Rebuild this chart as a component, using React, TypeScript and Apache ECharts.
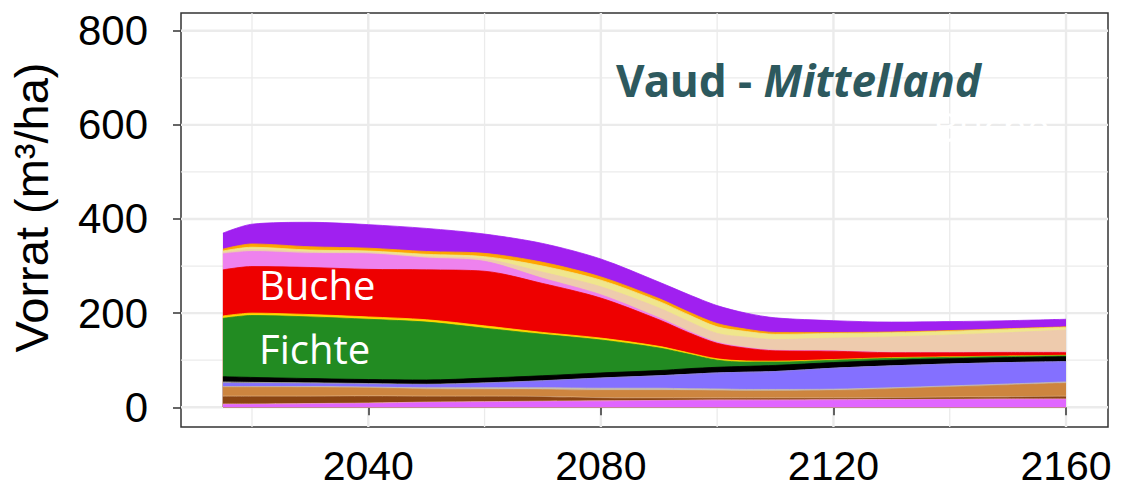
import React, { useEffect, useRef } from "react";
import * as echarts from "echarts";

// ---- data (m3/ha per layer, listed bottom -> top) ----
const years = [2015, 2020, 2030, 2040, 2050, 2060, 2070, 2080, 2090, 2095, 2100, 2105, 2110, 2120, 2130, 2140, 2150, 2160];

const pinkLayer = [6, 6, 7, 8, 10, 11, 12, 13, 14, 14.5, 15, 15, 15, 15.5, 16, 16.5, 17, 17];
const salmonLayer = [1, 1, 1, 1, 1, 1, 1, 0.8, 0.6, 0.6, 0.6, 0.6, 0.6, 0.6, 0.6, 0.6, 0.6, 0.6];
const brownLayer = [15.5, 15.5, 14.5, 14, 11.5, 10.5, 9, 5.7, 4.4, 3.9, 3.4, 3.4, 3.4, 2.9, 2.9, 3.4, 3.9, 4.9];
const wheatLayer = [1, 1, 1, 1, 1, 1, 1, 1, 1, 1, 1, 1, 1, 1, 1, 1, 1, 1];
const peruLayer = [19, 19, 18.5, 17, 15, 14.5, 14.5, 15.5, 16, 15.5, 15, 14.5, 14.5, 15.5, 18.5, 21.5, 24.5, 27.5];
const tanLayer = [1.5, 1.5, 2, 2, 3, 3.5, 4, 4.5, 4.5, 4, 4, 3.5, 3.5, 3, 2.5, 2.5, 2.5, 3];
const blueLayer = [7, 6.5, 6, 6, 6.5, 9.5, 14.5, 21.5, 26.5, 30.5, 34, 36.5, 38, 44.5, 46.5, 46.5, 45.5, 43];
const greyLayer = [3, 2.5, 2, 1.5, 1, 1, 0.5, 0.3, 0, 0, 0, 0, 0, 0, 0, 0, 0, 0];
const blackLayer = [11, 10.5, 9, 8.5, 9, 10, 10.5, 10.7, 11, 12, 12, 12.5, 13, 12, 12, 11, 10.5, 10.5];
const fichte = [124, 131.5, 131, 128, 123, 106, 88, 70, 48, 31, 15, 9, 7, 5, 4, 3, 2.5, 2];
const yellowLayer = [5, 5, 5, 5, 5, 5, 4, 4, 3.5, 3, 3, 2.5, 2, 1.5, 1.5, 1.2, 1, 1];
const buche = [98, 99, 100, 101, 106, 116, 104, 85, 56.5, 43, 33, 27, 22, 17.5, 10.5, 8.8, 7.5, 6];
const violetLayer = [34, 32, 30, 33, 25, 21, 11, 7, 4, 3, 2, 1.5, 1, 1, 0.5, 0.5, 0.5, 0.5];
const peachLayer = [3, 4, 3, 3, 3, 5, 13, 17, 21, 21, 19, 22, 23, 27, 33, 37, 41.5, 47];
const khakiLayer = [3, 5, 4, 3, 5, 5, 13, 14, 14, 14, 14, 12, 11, 10, 9, 8, 7.5, 6];
const orangeLayer = [4, 7, 7, 6, 6, 7, 8, 7, 6, 6, 7, 5, 4, 2, 1.5, 1.5, 1, 1];
const purpleLayer = [34, 42, 52, 50, 49, 41, 40, 38, 35, 37, 38, 34, 31, 25, 21, 19, 17, 16];

const layers = [
  { name: "Layer 1", color: "#E066FF", values: pinkLayer },
  { name: "Layer 2", color: "#F2B8A0", values: salmonLayer },
  { name: "Layer 3", color: "#8B4513", values: brownLayer },
  { name: "Layer 4", color: "#EDC9A4", values: wheatLayer },
  { name: "Layer 5", color: "#CD853F", values: peruLayer },
  { name: "Layer 6", color: "#C8BDB0", values: tanLayer },
  { name: "Layer 7", color: "#8470FF", values: blueLayer },
  { name: "Layer 8", color: "#A0A0A0", values: greyLayer },
  { name: "Layer 9", color: "#000000", values: blackLayer },
  { name: "Fichte", color: "#228B22", values: fichte },
  { name: "Layer 11", color: "#FFD700", values: yellowLayer },
  { name: "Buche", color: "#EE0000", values: buche },
  { name: "Layer 13", color: "#EE82EE", values: violetLayer },
  { name: "Layer 14", color: "#EECBAD", values: peachLayer },
  { name: "Layer 15", color: "#F0E68C", values: khakiLayer },
  { name: "Layer 16", color: "#FFA500", values: orangeLayer },
  { name: "Layer 17", color: "#A020F0", values: purpleLayer },
];

const xTickValues = [2040, 2080, 2120, 2160];
const xMinorValues = [2020, 2060, 2100, 2140];
const yTickValues = [0, 200, 400, 600, 800];
const yMinorValues = [100, 300, 500, 700];

const X_MIN = 2007.79;
const X_MAX = 2167.22;
const Y_MIN = -41.85;
const Y_MAX = 837.6;

export default function App() {
  const ref = useRef<HTMLDivElement>(null);

  useEffect(() => {
    if (!ref.current) return;
    const chart = echarts.init(ref.current, undefined, { renderer: "svg" });

    const gridSeries: any = {
      type: "custom",
      silent: true,
      z: 0,
      clip: false,
      data: [[years[0], 0]],
      renderItem: (_params: any, api: any) => {
        const children: any[] = [];
        const add = (a: number[], b: number[], w: number) =>
          children.push({
            type: "line",
            silent: true,
            shape: { x1: a[0], y1: a[1], x2: b[0], y2: b[1] },
            style: { stroke: "#EBEBEB", lineWidth: w },
          });
        yMinorValues.forEach((v) => add(api.coord([X_MIN, v]), api.coord([X_MAX, v]), 1.3));
        xMinorValues.forEach((v) => add(api.coord([v, Y_MIN]), api.coord([v, Y_MAX]), 1.3));
        yTickValues.forEach((v) => add(api.coord([X_MIN, v]), api.coord([X_MAX, v]), 2.4));
        xTickValues.forEach((v) => add(api.coord([v, Y_MIN]), api.coord([v, Y_MAX]), 2.4));
        return { type: "group", children };
      },
    };

    // cumulative stack tops, computed from the layer arrays
    const cumulative: number[][] = [];
    layers.forEach((l, k) => {
      cumulative.push(
        years.map((_, i) => (k === 0 ? 0 : cumulative[k - 1][i]) + l.values[i])
      );
    });

    // painter's order: highest cumulative first, each filled down to 0
    const areaSeries = layers
      .map((l, k) => ({
        name: l.name,
        type: "line",
        z: 2,
        symbol: "none",
        smooth: 0.3,
        silent: true,
        lineStyle: { width: 0.8, color: l.color },
        areaStyle: { color: l.color, opacity: 1, origin: 0 },
        data: years.map((y, i) => [y, cumulative[k][i]]),
      }))
      .reverse();

    const labelText = (text: string, x: number, y: number) => ({
      type: "text",
      x,
      y,
      z: 100,
      silent: true,
      style: {
        text,
        fill: "#ffffff",
        fontFamily: "Open Sans",
        fontSize: 40,
        textAlign: "left",
        verticalAlign: "middle",
      },
    });

    chart.setOption({
      animation: false,
      backgroundColor: "#ffffff",
      grid: {
        left: 181,
        right: 21,
        top: 13,
        bottom: 62,
        containLabel: false,
        outerBoundsMode: "none",
        show: true,
        borderColor: "#333333",
        borderWidth: 1.5,
        backgroundColor: "transparent",
      },
      xAxis: {
        type: "value",
        min: X_MIN,
        max: X_MAX,
        axisLine: { show: false },
        splitLine: { show: false },
        axisTick: {
          show: true,
          customValues: xTickValues,
          length: 8,
          lineStyle: { color: "#333333", width: 1.5 },
        },
        axisLabel: {
          customValues: xTickValues,
          formatter: (v: number) => String(v),
          margin: 22,
          lineHeight: 34,
          color: "#000000",
          fontSize: 41,
          fontFamily: "Liberation Sans",
        },
      },
      yAxis: {
        type: "value",
        min: Y_MIN,
        max: Y_MAX,
        axisLine: { show: false },
        splitLine: { show: false },
        axisTick: {
          show: true,
          customValues: yTickValues,
          length: 8,
          lineStyle: { color: "#333333", width: 1.5 },
        },
        axisLabel: {
          customValues: yTickValues,
          formatter: (v: number) => String(v),
          margin: 33,
          color: "#000000",
          fontSize: 42,
          fontFamily: "Liberation Sans",
        },
      },
      graphic: [
        {
          type: "text",
          x: 933,
          y: 126,
          z: 1,
          silent: true,
          style: {
            text: "Buche",
            fill: "#ffffff",
            fontFamily: "Open Sans",
            fontSize: 40,
            textAlign: "left",
            verticalAlign: "middle",
          },
        },
        {
          type: "text",
          x: 616,
          y: 79.5,
          z: 100,
          style: {
            text: "{a|Vaud - }{b|Mittelland}",
            textAlign: "left",
            verticalAlign: "middle",
            rich: {
              a: { fontFamily: "Noto Sans", fontWeight: "bold", fontSize: 44, fill: "#2D595E" },
              b: { fontFamily: "Noto Sans", fontWeight: "bold", fontStyle: "italic", fontSize: 44, fill: "#2D595E" },
            },
          },
        },
        labelText("Buche", 259, 284.5),
        labelText("Fichte", 259, 348.5),
        {
          type: "text",
          x: 31,
          y: 207.5,
          rotation: Math.PI / 2,
          z: 100,
          style: {
            text: "Vorrat (m³/ha)",
            fill: "#000000",
            fontFamily: "Liberation Sans",
            fontSize: 47,
            textAlign: "center",
            verticalAlign: "middle",
          },
        },
      ],
      series: [gridSeries, ...areaSeries],
    });

    return () => chart.dispose();
  }, []);

  return (
    <div
      ref={ref}
      style={{ position: "absolute", left: 0, top: 0, width: 1129, height: 489 }}
    />
  );
}
